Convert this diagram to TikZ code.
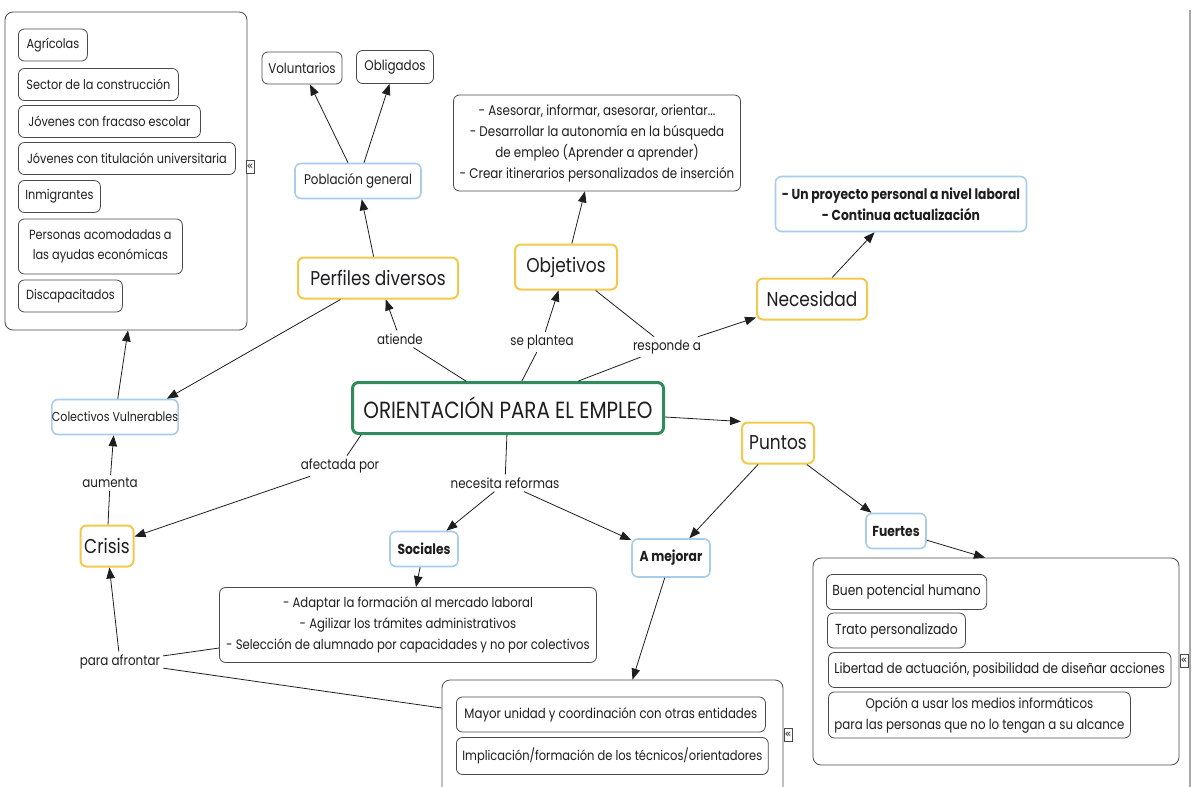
\documentclass[tikz,border=0pt]{standalone}
\usepackage{fontspec}
\setmainfont[FakeStretch=0.85]{Poppins}
\newfontfamily\cmsymbols{DejaVu Sans}
\usetikzlibrary{arrows.meta}
\definecolor{cmink}{HTML}{1E1E1E}
\definecolor{cmgold}{HTML}{F2C94C}
\definecolor{cmsky}{HTML}{A8CCEC}
\definecolor{cmgreen}{HTML}{2F8A5C}
\definecolor{cmframe}{HTML}{4A4A4A}
\definecolor{cmrule}{HTML}{A8A8A8}
\tikzset{
  cmbox/.style={
    rounded corners=6pt,
    fill=white,
    align=center,
    inner sep=0pt,
    text=cmink
  },
  cmmain/.style={
    cmbox,
    draw=cmgreen,
    line width=3pt,
    minimum width=311pt,
    minimum height=51pt,
    font=\fontsize{23.4}{27}\selectfont
  },
  cmconcept/.style={
    cmbox,
    draw=cmgold,
    line width=2pt,
    minimum height=41pt,
    font=\fontsize{20}{24}\selectfont
  },
  cmsub/.style={
    cmbox,
    draw=cmsky,
    line width=1.6pt,
    minimum height=35pt,
    font=\fontsize{14}{21}\selectfont
  },
  cmstrong/.style={
    cmsub,
    font=\fontsize{14.5}{21}\selectfont\bfseries
  },
  cmitem/.style={
    cmbox,
    draw=cmframe,
    line width=0.8pt,
    minimum height=32pt,
    inner xsep=6pt,
    font=\fontsize{14}{21}\selectfont
  },
  cmlist/.style={
    cmitem,
    anchor=west,
    font=\fontsize{13.3}{20}\selectfont
  },
  cmgroup/.style={
    draw=cmframe,
    rounded corners=8pt,
    line width=0.8pt,
    fill=white,
    inner sep=0pt
  },
  cmfold/.style={
    draw=cmframe,
    line width=0.6pt,
    fill=white,
    inner sep=0pt,
    minimum width=8pt,
    minimum height=13pt,
    text=cmink,
    font=\cmsymbols\fontsize{11}{11}\selectfont
  },
  cmlink/.style={
    inner sep=3pt,
    text=cmink,
    font=\fontsize{14}{16}\selectfont
  },
  cmedge/.style={
    -{Triangle[length=11pt,width=8.5pt]},
    line width=0.8pt,
    color=cmink
  },
  cmline/.style={
    line width=0.8pt,
    color=cmink
  }
}

\begin{document}
\begin{tikzpicture}[x=1pt,y=-1pt]
  \useasboundingbox (0,0) rectangle (1192,787);
  \draw[cmrule, line width=1.2pt] (1190,10) -- (1190,787);

  % grouped lists
  \node[cmgroup, minimum width=242pt, minimum height=318pt] (perfilgrp) at (126,171) {};
  \node[cmgroup, minimum width=341pt, minimum height=120pt] (mejoragrp) at (612.5,740) {};
  \node[cmgroup, minimum width=366pt, minimum height=207pt] (fuertegrp) at (996,661.5) {};

  \node[cmlist, minimum width=69pt] (agricolas) at (18,45) {Agrícolas};
  \node[cmlist, minimum width=160pt] (construccion) at (18,84.5) {Sector de la construcción};
  \node[cmlist, minimum width=182pt] (fracaso) at (18,121.5) {Jóvenes con fracaso escolar};
  \node[cmlist, minimum width=217pt] (titulados) at (18,158.5) {Jóvenes con titulación universitaria};
  \node[cmlist, minimum width=82pt] (inmigrantes) at (18,196.5) {Inmigrantes};
  \node[cmlist, minimum width=164pt, minimum height=55pt] (acomodadas) at (18,246.5) {Personas acomodadas a\\las ayudas económicas};
  \node[cmlist, minimum width=104pt] (discapacitados) at (18,296) {Discapacitados};
  \node[cmfold] (perfilfold) at (250,167) {«};

  \node[cmlist, minimum width=309pt, minimum height=35pt, font=\fontsize{13.8}{21}\selectfont] (unidad) at (456,714.5) {Mayor unidad y coordinación con otras entidades};
  \node[cmlist, minimum width=307pt, minimum height=37pt, font=\fontsize{13.5}{21}\selectfont] (implicacion) at (456,756) {Implicación/formación de los técnicos/orientadores};
  \node[cmfold] (mejorafold) at (788,735) {«};

  \node[cmlist, minimum width=149pt, minimum height=35pt, font=\fontsize{14.5}{21}\selectfont] (potencial) at (826,592) {Buen potencial humano};
  \node[cmlist, minimum width=138pt, minimum height=35pt, font=\fontsize{14.5}{21}\selectfont] (trato) at (827,630.5) {Trato personalizado};
  \node[cmlist, minimum width=339pt, minimum height=35pt, font=\fontsize{14.2}{21}\selectfont] (libertad) at (828,670) {Libertad de actuación, posibilidad de diseñar acciones};
  \node[cmlist, minimum width=302pt, minimum height=46pt, font=\fontsize{13.9}{21}\selectfont] (informatica) at (828,715) {Opción a usar los medios informáticos\\para las personas que no lo tengan a su alcance};
  \node[cmfold] (fuertefold) at (1184,661) {«};

  % concepts
  \node[cmmain] (orient) at (508,408) {ORIENTACIÓN PARA EL EMPLEO};
  \node[cmconcept, minimum width=160pt] (perfiles) at (378,278) {Perfiles diversos};
  \node[cmconcept, minimum width=102pt, minimum height=45pt] (objetivos) at (566,267) {Objetivos};
  \node[cmconcept, minimum width=110pt] (necesidad) at (812,299) {Necesidad};
  \node[cmconcept, minimum width=72pt] (puntos) at (778,443) {Puntos};
  \node[cmconcept, minimum width=53pt] (crisis) at (107,546) {Crisis};

  \node[cmsub, minimum width=126pt] (poblacion) at (358,181) {Población general};
  \node[cmsub, minimum width=126pt, font=\fontsize{13}{21}\selectfont] (colectivos) at (115,417) {Colectivos Vulnerables};
  \node[cmstrong, minimum width=68pt] (sociales) at (424,549) {Sociales};
  \node[cmstrong, minimum width=78pt, minimum height=38pt] (amejorar) at (671,558) {A mejorar};
  \node[cmstrong, minimum width=60pt] (fuertes) at (896,531) {Fuertes};
  \node[cmstrong, minimum width=251pt, minimum height=55pt] (proyecto) at (901,204) {%
    - Un proyecto personal a nivel laboral\\
    - Continua actualización};

  \node[cmitem, minimum width=80pt] (voluntarios) at (302,68) {Voluntarios};
  \node[cmitem, minimum width=77pt, minimum height=33pt] (obligados) at (395,67) {Obligados};
  \node[cmitem, minimum width=287pt, minimum height=96pt] (metas) at (597,143) {%
    - Asesorar, informar, asesorar, orientar...\\
    - Desarrollar la autonomía en la búsqueda\\
    de empleo (Aprender a aprender)\\
    - Crear itinerarios personalizados de inserción};
  \node[cmitem, minimum width=377pt, minimum height=75pt, font=\fontsize{13.7}{21}\selectfont] (reformas) at (408,625) {%
    - Adaptar la formación al mercado laboral\\
    - Agilizar los trámites administrativos\\
    - Selección de alumnado por capacidades y no por colectivos};

  % linking phrases
  \node[cmlink] (atiende) at (400,339) {atiende};
  \node[cmlink] (plantea) at (542,342) {se plantea};
  \node[cmlink] (responde) at (667,347) {responde a};
  \node[cmlink] (afectada) at (340,466) {afectada por};
  \node[cmlink] (necesita) at (505,483) {necesita reformas};
  \node[cmlink] (aumenta) at (110,483) {aumenta};
  \node[cmlink] (afrontar) at (120,662) {para afrontar};

  \draw[cmline] (orient) -- (atiende);
  \draw[cmedge] (atiende) -- (perfiles);
  \draw[cmedge] (perfiles) -- (poblacion);
  \draw[cmedge] ([xshift=-10pt]poblacion.north) -- (voluntarios);
  \draw[cmedge] ([xshift=6pt]poblacion.north) -- (obligados);
  \draw[cmedge] (perfiles) -- ([xshift=-12pt]colectivos.north east);

  \draw[cmline] (orient) -- (plantea);
  \draw[cmedge] (plantea) -- (objetivos);
  \draw[cmedge] (objetivos) -- (metas);

  \draw[cmline] (orient) -- (responde);
  \draw[cmline] (objetivos) -- (responde);
  \draw[cmedge] (responde) -- (necesidad);
  \draw[cmedge] (necesidad) -- (proyecto);

  \draw[cmedge] ([yshift=-9pt]orient.east) -- (puntos.north west);
  \draw[cmedge] (puntos) -- (amejorar);
  \draw[cmedge] (puntos) -- (fuertes);
  \draw[cmedge] (fuertes) -- ([xshift=-11pt]fuertegrp.north);
  \draw[cmedge] (amejorar) -- ([xshift=20pt]mejoragrp.north);

  \draw[cmline] ([xshift=10pt]orient.south west) -- (afectada);
  \draw[cmedge] (afectada) -- (crisis);
  \draw[cmline] (crisis) -- (aumenta);
  \draw[cmedge] (aumenta) -- (colectivos);
  \draw[cmedge] (colectivos) -- ([xshift=2pt]perfilgrp.south);

  \draw[cmline] (orient) -- (necesita);
  \draw[cmedge] (necesita) -- (sociales);
  \draw[cmedge] (necesita) -- (amejorar);
  \draw[cmedge] (sociales) -- (reformas);

  \draw[cmline] ([yshift=-23pt]reformas.west) -- (afrontar);
  \draw[cmline] ([yshift=32pt]mejoragrp.west) -- (afrontar);
  \draw[cmedge] (afrontar) -- (crisis);
\end{tikzpicture}
\end{document}
